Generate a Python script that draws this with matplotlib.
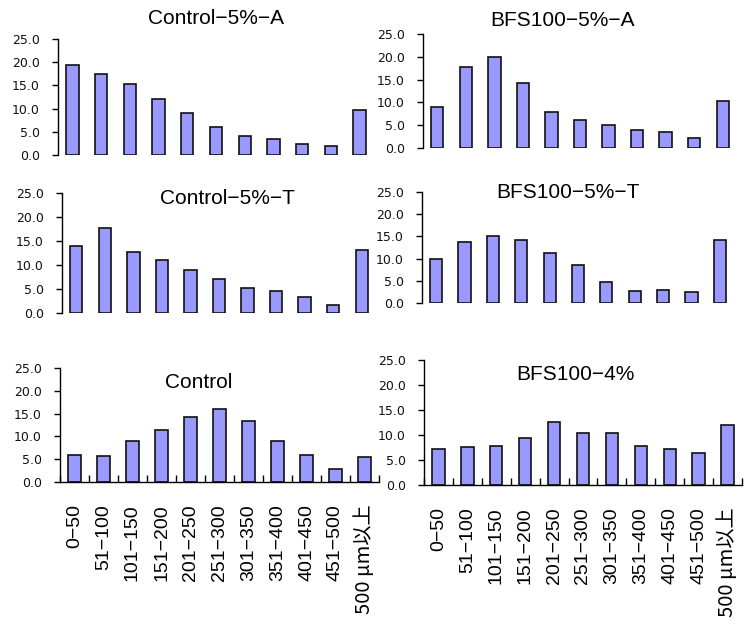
import numpy as np
import matplotlib
matplotlib.use("Agg")
import matplotlib.pyplot as plt
from matplotlib.ticker import FixedLocator

plt.rcParams["font.family"] = ["Liberation Sans", "Noto Sans CJK JP", "DejaVu Sans"]

# particle size classes
categories = ["0−50", "51−100", "101−150", "151−200", "201−250", "251−300",
              "301−350", "351−400", "401−450", "451−500", "500 μm以上"]

control_5_a = [19.3, 17.5, 15.2, 12.1, 9.0, 6.0, 4.0, 3.4, 2.4, 1.9, 9.8]
bfs100_5_a = [9.0, 17.7, 20.0, 14.2, 8.0, 6.1, 5.0, 4.0, 3.5, 2.1, 10.3]
control_5_t = [13.9, 17.8, 12.7, 11.1, 9.0, 7.0, 5.3, 4.6, 3.3, 1.7, 13.1]
bfs100_5_t = [10.0, 13.7, 15.0, 14.2, 11.3, 8.6, 4.8, 2.7, 2.9, 2.4, 14.2]
control = [6.0, 5.8, 9.1, 11.5, 14.2, 16.0, 13.4, 9.1, 6.0, 2.9, 5.5]
bfs100_4 = [7.3, 7.6, 7.8, 9.5, 12.6, 10.5, 10.5, 7.9, 7.3, 6.4, 12.1]

titles = ["Control−5%−A", "BFS100−5%−A", "Control−5%−T",
          "BFS100−5%−T", "Control", "BFS100−4%"]
series = [control_5_a, bfs100_5_a, control_5_t, bfs100_5_t, control, bfs100_4]

W, H = 754, 624

# axes boxes in pixels: left, top, right, bottom
boxes = [(58, 39, 374, 155), (423, 34, 737, 148),
         (62, 193, 376, 313), (422, 192, 734, 303),
         (60, 368, 379, 482), (424, 360, 742, 485)]
# title centres in pixels
title_pos = [(216, 18), (563, 20), (227, 198), (568, 193), (199, 382), (575, 375)]

fig = plt.figure(figsize=(W / 100, H / 100), dpi=100)

x = np.arange(len(categories))
for i, (vals, name) in enumerate(zip(series, titles)):
    l, t, r, b = boxes[i]
    ax = fig.add_axes([l / W, 1 - b / H, (r - l) / W, (b - t) / H])
    ax.bar(x, vals, width=0.43, color="#9999FF", edgecolor="#111111", linewidth=1.2)
    ax.set_xlim(-0.5, len(categories) - 0.5)
    ax.set_ylim(0, 25)
    ax.set_yticks([0, 5, 10, 15, 20, 25])
    ax.set_yticklabels(["%.1f" % v for v in [0, 5, 10, 15, 20, 25]],
                       family="DejaVu Sans", fontsize=9, color="#111111")
    ax.tick_params(axis="y", direction="out", length=4, width=1, pad=9)
    for s in ["top", "right"]:
        ax.spines[s].set_visible(False)
    ax.spines["left"].set_linewidth(1)

    if i >= 4:
        ax.set_xticks(x)
        labels = ax.set_xticklabels(categories, rotation=90, fontsize=14)
        # the last class label uses the Japanese font (wide μ)
        labels[-1].set_family(["Noto Sans CJK JP"])
        labels[-1].set_fontsize(14.5)
        ax.tick_params(axis="x", which="major", length=0, pad=16)
        ax.xaxis.set_minor_locator(FixedLocator(np.arange(-0.5, len(categories), 1.0)))
        ax.tick_params(axis="x", which="minor", direction="in", length=5, width=1)
        ax.spines["bottom"].set_linewidth(1)
    else:
        ax.set_xticks([])
        ax.spines["bottom"].set_visible(False)

    tx, ty = title_pos[i]
    fig.text(tx / W, 1 - ty / H, name, ha="center", va="center", fontsize=15)

fig.savefig("out.png", dpi=100)
